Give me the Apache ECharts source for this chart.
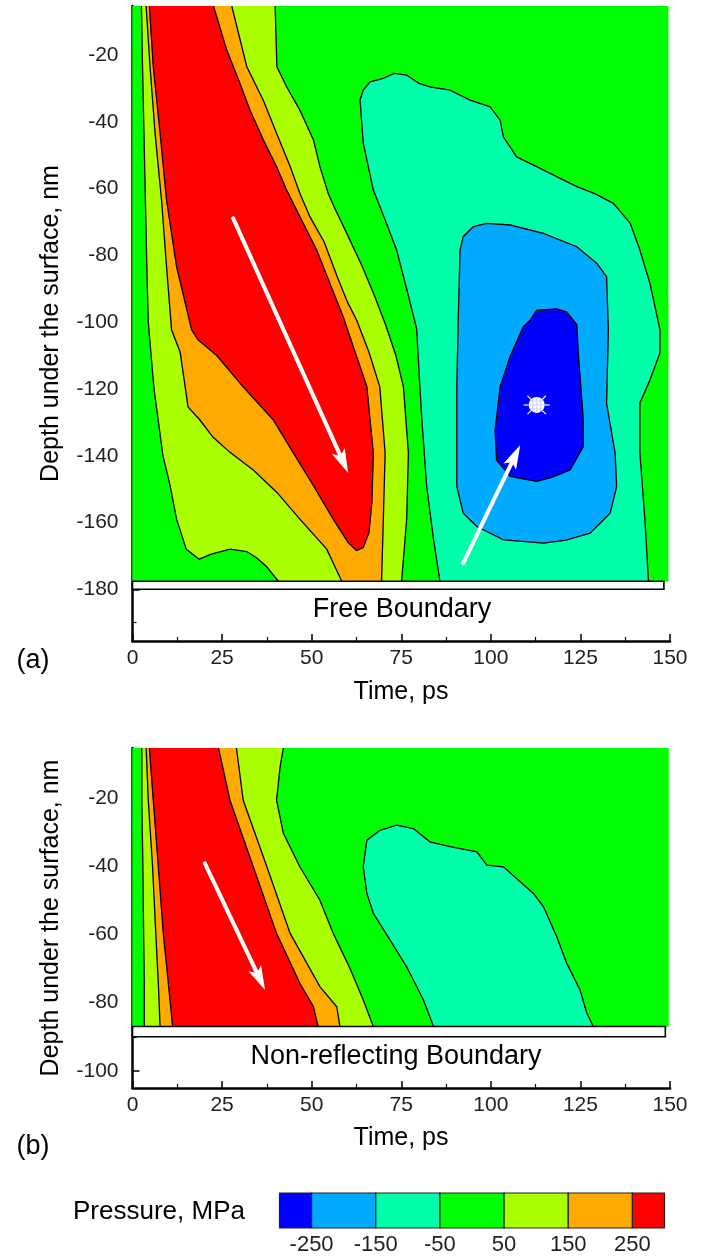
<!DOCTYPE html>
<html><head><meta charset="utf-8">
<script src="https://cdn.jsdelivr.net/npm/echarts@6/dist/echarts.min.js"></script>
<style>html,body{margin:0;padding:0;background:#fff}#chart{width:701px;height:1256px}</style>
</head><body><div id="chart"></div>
<script>
// ---------- colour levels (Pressure, MPa) ----------
const pressureEdges = [-300, -250, -150, -50, 50, 150, 250, 300];
const pressureColors = ['#0000ff', '#00aaff', '#00ffaa', '#00ff00', '#aaff00', '#ffaa00', '#ff0000'];
const pressureTicks = [-250, -150, -50, 50, 150, 250];

// ---------- axis ticks ----------
const depthTicksA = [-180, -160, -140, -120, -100, -80, -60, -40, -20];
const depthMinorA = [-190, -170, -150, -130, -110, -90, -70, -50, -30, -10];
const depthTicksB = [-100, -80, -60, -40, -20];
const depthMinorB = [-90, -70, -50, -30, -10];

// ---------- panel (a): Free Boundary, contour lines [time ps, depth nm] ----------
const fieldA = [0, 149.5, -177.6, -5.3];          // tmin, tmax, dmin, dmax of computed field
const barA = [0, 148.3, -177.6, -180];             // boundary slab
const aL1 = [[2.5,-5.3],[2.8,-23.5],[3.2,-43.4],[3.6,-63.4],[4.0,-83.4],[4.4,-100],[6,-120],[8.5,-140],[10.5,-149],[12.3,-159],[15,-168],[18.6,-171],[22,-169.5],[27.2,-168],[31.9,-168.7],[34.5,-170.5],[37.4,-173.2],[40.7,-177.6]];
const aL2 = [[3.8,-5.3],[4.9,-23.5],[6.3,-43.4],[8.1,-63.4],[9.5,-83.4],[10.9,-102.3],[13.3,-109],[14.7,-119.4],[15.5,-125.4],[18.8,-129.3],[22.5,-134.5],[27.2,-139],[33.7,-144.3],[40.3,-151],[46.7,-159],[54.2,-168],[58.4,-177.6]];
const aL3 = [[4.7,-5.3],[5.8,-23.5],[7.7,-43.4],[9.5,-63.4],[12.3,-83.4],[16.5,-102.3],[18.3,-105.3],[23.5,-110],[30.9,-119.4],[39.3,-129.3],[44.8,-139],[50.5,-149],[56,-159],[60.2,-166],[62.5,-168.4],[64.4,-167.5],[66,-163],[66.8,-154],[67.2,-139.2],[65.4,-119.3],[61.5,-107],[58.8,-98.4],[55.1,-88.4],[51.4,-78.4],[46.7,-68.4],[43,-60.4],[40.2,-53.4],[36.5,-45.4],[32.8,-36.5],[30,-28.5],[26.3,-18.5],[22.6,-5.3]];
const aL4 = [[27.7,-5.3],[31.9,-23.5],[36.5,-33.5],[40.2,-43.4],[44,-53.4],[46.7,-61.4],[49.5,-68.4],[53.5,-76],[57,-86],[60,-94],[62.6,-99.5],[66,-109],[69,-119.3],[70.5,-139.2],[70,-159.2],[69.5,-177.6]];
const aL5 = [[39.8,-5.3],[40.3,-23.5],[43,-29.5],[46.7,-36.5],[50.5,-45.4],[52.3,-53.4],[54.6,-61.4],[56.5,-66],[59.8,-73.4],[64,-83],[67.5,-92],[70.7,-101],[73.5,-110],[75.6,-119.3],[77,-139.2],[76.5,-159.2],[75.1,-177.6]];
const aL6 = [[85.8,-177.6],[84,-165],[82.1,-149.2],[80.8,-130],[80.2,-119.3],[79.3,-102],[76.5,-90],[73.7,-78.4],[70,-68],[67.2,-60.4],[64.4,-46.4],[63.5,-33.5],[64.4,-30.5],[66.3,-28],[70,-27],[73,-25.5],[76.5,-26],[80,-28.5],[83,-29.5],[88.6,-30.5],[94.2,-33.5],[99.8,-35.5],[102.6,-39.5],[103.5,-44.5],[107.2,-50.5],[112.8,-53.4],[120.2,-57.4],[124,-59.4],[129,-61.5],[134.2,-64.4],[138.9,-70.4],[141.6,-78.4],[144.4,-88.4],[147.2,-102.3],[147.2,-109.2],[144.4,-117.3],[141.6,-124.2],[141.6,-139.2],[143,-159.2],[144,-177.6]];
const aL7 = [[90.9,-99.5],[91.4,-78.4],[92.3,-74.4],[95.1,-71.4],[98.9,-70.4],[105.4,-70.9],[114.7,-73.4],[124,-77.4],[129.6,-82.4],[132.3,-86.4],[132.8,-102.3],[132.3,-124.3],[134.7,-139.3],[135.1,-149.3],[133.3,-157.2],[127.7,-163.2],[121,-165.3],[114.7,-166.2],[103.5,-165.2],[96.1,-161.2],[92.3,-157.2],[90.5,-149.2],[90.5,-119.3]];
const aL8 = [[109.1,-101.3],[110.9,-99.5],[112.8,-96.5],[118.4,-96],[121.2,-97],[124,-100.8],[124.4,-109.3],[125.8,-129.3],[125.8,-137.3],[122.1,-144.3],[117,-146.5],[112.8,-147.7],[105.4,-146.2],[101.6,-141.3],[101.2,-132.3],[102.6,-119.3],[105.4,-110.3]];
const arrowsA = [[[28.1,-68.9],[60.2,-145.2]], [[92.3,-172.2],[108.2,-136.8]]];
const minPressurePointA = [112.8, -124.8];

// ---------- panel (b): Non-reflecting Boundary ----------
const fieldB = [0, 149.6, -87, -5.4];
const barB = [0, 148.7, -87, -90];
const bL1 = [[2.6,-5.4],[2.6,-20.7],[2.9,-40.2],[3.1,-59.7],[3.3,-74.3],[3.3,-87]];
const bL2 = [[3.8,-5.4],[4.4,-20.7],[5.6,-40.2],[6.5,-59.7],[7.2,-74.3],[7.7,-87]];
const bL3 = [[4.7,-5.4],[5.8,-20.7],[7.2,-40.2],[8.6,-59.7],[10,-74.3],[11.2,-87]];
const bL3r = [[24,-5.4],[27.2,-20.7],[33.7,-40.2],[40.2,-59.7],[46.7,-74.3],[50.5,-81.2],[51.8,-87]];
const bL4 = [[29,-5.4],[30.9,-20.7],[37.5,-40.2],[44,-59.7],[52.3,-75.3],[57,-81.2],[57.9,-87]];
const bL5 = [[42.1,-5.4],[41.2,-10.9],[40.2,-20.7],[42.1,-30.4],[46.7,-40.2],[52.3,-50],[56,-59.7],[60.7,-70],[64.4,-79.2],[67.2,-87]];
const bL6 = [[84,-87],[81.2,-79.2],[76.5,-69.5],[71.9,-61.7],[67.2,-53.8],[65.4,-48],[64.4,-40.2],[65.4,-32.4],[69.1,-29.5],[73.7,-28],[78.4,-29],[83,-32.9],[88.6,-34.3],[96.1,-35.8],[98.9,-39.7],[103.5,-40.2],[108.2,-44.6],[111.9,-48],[114.7,-51.9],[118.4,-60.7],[121.2,-68.5],[124.9,-76.3],[126.8,-83.1],[128.6,-87]];
const arrowsB = [[[20.2,-39.2],[37,-76.3]]];

// ---------- helpers ----------
const FONT = "'Liberation Sans', Arial, Helvetica, sans-serif";
const rev = a => a.slice().reverse();
const rectPts = f => [[f[0], f[3]], [f[1], f[3]], [f[1], f[2]], [f[0], f[2]]];
const closed = a => a.concat([a[0]]);
// colour index: 0 dark blue,1 light blue,2 aqua,3 green,4 yellow-green,5 orange,6 red
const regionsA = [
  {pts: rectPts(fieldA), c: 3},
  {pts: aL1.concat(rev(aL5)), c: 4},
  {pts: aL2.concat(rev(aL4)), c: 5},
  {pts: aL3, c: 6},
  {pts: aL6, c: 2},
  {pts: aL7, c: 1},
  {pts: aL8, c: 0}
];
const linesA = [aL1, aL2, aL3, aL4, aL5, aL6, closed(aL7), closed(aL8)];
const regionsB = [
  {pts: rectPts(fieldB), c: 3},
  {pts: bL1.concat(rev(bL5)), c: 4},
  {pts: bL2.concat(rev(bL4)), c: 5},
  {pts: bL3.concat(rev(bL3r)), c: 6},
  {pts: bL6, c: 2}
];
const linesB = [bL1, bL2, bL3, bL3r, bL4, bL5, bL6];

function fillSeries(xi, yi, regions) {
  return {type: 'custom', xAxisIndex: xi, yAxisIndex: yi, clip: true, silent: true,
    data: regions.map((r, i) => [i]),
    renderItem: (params, api) => {
      const r = regions[params.dataIndex];
      return {type: 'polygon', shape: {points: r.pts.map(p => api.coord(p))},
        style: {fill: pressureColors[r.c], stroke: pressureColors[r.c], lineWidth: 0.5}};
    }};
}
function lineSeries(xi, yi, lines) {
  return {type: 'custom', xAxisIndex: xi, yAxisIndex: yi, clip: true, silent: true,
    data: lines.map((l, i) => [i]),
    renderItem: (params, api) => ({type: 'polyline',
      shape: {points: lines[params.dataIndex].map(p => api.coord(p))},
      style: {stroke: '#000', lineWidth: 1.3, fill: null}})};
}
function arrowEl(api, a, b) {
  const p0 = api.coord(a), p1 = api.coord(b);
  const dx = p1[0] - p0[0], dy = p1[1] - p0[1], L = Math.hypot(dx, dy);
  const ux = dx / L, uy = dy / L, hl = 24, hw = 7;
  const bx = p1[0] - ux * hl, by = p1[1] - uy * hl;
  return {type: 'group', children: [
    {type: 'line', shape: {x1: p0[0], y1: p0[1], x2: bx + ux * 4, y2: by + uy * 4}, style: {stroke: '#fff', lineWidth: 4, lineCap: 'round'}},
    {type: 'polygon', shape: {points: [p1, [bx - uy * hw, by + ux * hw], [bx + ux * 5, by + uy * 5], [bx + uy * hw, by - ux * hw]]}, style: {fill: '#fff'}}
  ]};
}
function overlaySeries(xi, yi, bar, arrows, marker) {
  const items = [{k: 'bar'}].concat(arrows.map((a, i) => ({k: 'arrow', i}))).concat(marker ? [{k: 'marker'}] : []);
  return {type: 'custom', xAxisIndex: xi, yAxisIndex: yi, clip: false, silent: true,
    data: items.map((o, i) => [i]),
    renderItem: (params, api) => {
      const o = items[params.dataIndex];
      if (o.k === 'bar') {
        const p0 = api.coord([bar[0], bar[2]]), p1 = api.coord([bar[1], bar[3]]);
        return {type: 'rect', shape: {x: p0[0], y: p0[1], width: p1[0] - p0[0], height: p1[1] - p0[1]},
          style: {fill: '#fff', stroke: '#000', lineWidth: 1.6}};
      }
      if (o.k === 'arrow') return arrowEl(api, arrows[o.i][0], arrows[o.i][1]);
      const c = api.coord(marker), r = 8, R = 13, ch = [];
      [Math.PI / 4, 3 * Math.PI / 4, 5 * Math.PI / 4, 7 * Math.PI / 4, 0, Math.PI].forEach(t => {
        ch.push({type: 'line', shape: {x1: c[0] + Math.cos(t) * r, y1: c[1] + Math.sin(t) * r, x2: c[0] + Math.cos(t) * R, y2: c[1] + Math.sin(t) * R}, style: {stroke: '#fff', lineWidth: 1.2}});
      });
      ch.push({type: 'circle', shape: {cx: c[0], cy: c[1], r: r}, style: {fill: '#fff'}});
      [-4, 0, 4].forEach(o2 => {
        const h = Math.sqrt(r * r - o2 * o2) - 1;
        ch.push({type: 'line', shape: {x1: c[0] + o2, y1: c[1] - h, x2: c[0] + o2, y2: c[1] + h}, style: {stroke: '#b8c8ff', lineWidth: 0.8}});
        ch.push({type: 'line', shape: {x1: c[0] - h, y1: c[1] + o2, x2: c[0] + h, y2: c[1] + o2}, style: {stroke: '#b8c8ff', lineWidth: 0.8}});
      });
      return {type: 'group', children: ch};
    }};
}
const colorbarSeries = {type: 'custom', xAxisIndex: 2, yAxisIndex: 4, silent: true,
  data: pressureColors.map((c, i) => [i]),
  renderItem: (params, api) => {
    const i = params.dataIndex;
    const p0 = api.coord([pressureEdges[i], 1]), p1 = api.coord([pressureEdges[i + 1], 0]);
    return {type: 'rect', shape: {x: p0[0], y: p0[1], width: p1[0] - p0[0], height: p1[1] - p0[1]},
      style: {fill: pressureColors[i], stroke: '#222', lineWidth: 1.2}};
  }};

// ---------- axes ----------
const axisLineStyle = {color: '#000', width: 2.5};
function timeAxis(gi) {
  return {gridIndex: gi, type: 'value', min: 0, max: 150, interval: 25, position: 'bottom',
    axisLine: {show: true, lineStyle: axisLineStyle},
    axisTick: {show: true, inside: true, length: 7, lineStyle: {color: '#000', width: 1.5}},
    minorTick: {show: true, splitNumber: 2, length: 4, lineStyle: {color: '#000', width: 1.2}},
    splitLine: {show: false}, minorSplitLine: {show: false},
    axisLabel: {fontSize: 21, fontFamily: FONT, color: '#222', margin: 7}};
}
function depthAxis(gi, min, max, ticks) {
  return {gridIndex: gi, type: 'value', min: min, max: max, position: 'left',
    axisLine: {show: true, onZero: false, lineStyle: axisLineStyle},
    axisTick: {show: true, inside: true, length: 7, customValues: ticks, lineStyle: {color: '#000', width: 1.5}},
    splitLine: {show: false},
    axisLabel: {fontSize: 21, fontFamily: FONT, color: '#222', margin: 14, customValues: ticks}};
}
function minorDepthAxis(gi, min, max, ticks) {
  return {gridIndex: gi, type: 'value', min: min, max: max, position: 'left',
    axisLine: {show: false},
    axisTick: {show: true, inside: true, length: 4, customValues: ticks, lineStyle: {color: '#000', width: 1.2}},
    splitLine: {show: false}, axisLabel: {show: false}};
}

const txt = (text, x, y, size, extra) => Object.assign({type: 'text', x: x, y: y, silent: true,
  style: {text: text, font: size + 'px ' + FONT, fill: '#000', textAlign: 'center', textVerticalAlign: 'middle'}}, extra || {});

const option = {
  animation: false,
  backgroundColor: '#fff',
  grid: [
    {left: 132.5, top: 6, width: 537.5, height: 635, containLabel: false, outerBoundsMode: 'none'},
    {left: 132.5, top: 748, width: 537.5, height: 340, containLabel: false, outerBoundsMode: 'none'},
    {left: 279.5, top: 1193, width: 385, height: 35, containLabel: false, outerBoundsMode: 'none'}
  ],
  xAxis: [
    timeAxis(0), timeAxis(1),
    {gridIndex: 2, type: 'value', min: -300, max: 300, position: 'bottom',
      axisLine: {show: false}, axisTick: {show: false}, splitLine: {show: false},
      axisLabel: {fontSize: 22, fontFamily: FONT, color: '#222', margin: 6, customValues: pressureTicks}}
  ],
  yAxis: [
    depthAxis(0, -195.5, -5.3, depthTicksA), minorDepthAxis(0, -195.5, -5.3, depthMinorA),
    depthAxis(1, -105, -5.4, depthTicksB), minorDepthAxis(1, -105, -5.4, depthMinorB),
    {gridIndex: 2, type: 'value', min: 0, max: 1, show: false}
  ],
  series: [
    fillSeries(0, 0, regionsA), lineSeries(0, 0, linesA), overlaySeries(0, 0, barA, arrowsA, minPressurePointA),
    fillSeries(1, 2, regionsB), lineSeries(1, 2, linesB), overlaySeries(1, 2, barB, arrowsB, null),
    colorbarSeries
  ],
  graphic: [
    txt('Depth under the surface, nm', 51, 323.5, 25, {rotation: Math.PI / 2}),
    txt('Depth under the surface, nm', 51, 918, 25, {rotation: Math.PI / 2}),
    txt('Time, ps', 401, 692, 25),
    txt('Time, ps', 401, 1138, 25),
    txt('(a)', 33, 661, 27),
    txt('(b)', 33, 1147, 27),
    txt('Free Boundary', 402, 610, 27),
    txt('Non-reflecting Boundary', 396, 1057, 27),
    {type: 'text', x: 73, y: 1212, silent: true, style: {text: 'Pressure, MPa', font: '26px ' + FONT, fill: '#000', textAlign: 'left', textVerticalAlign: 'middle'}}
  ]
};
const chart = echarts.init(document.getElementById('chart'), null, {renderer: 'canvas', width: 701, height: 1256});
chart.setOption(option);
</script></body></html>
